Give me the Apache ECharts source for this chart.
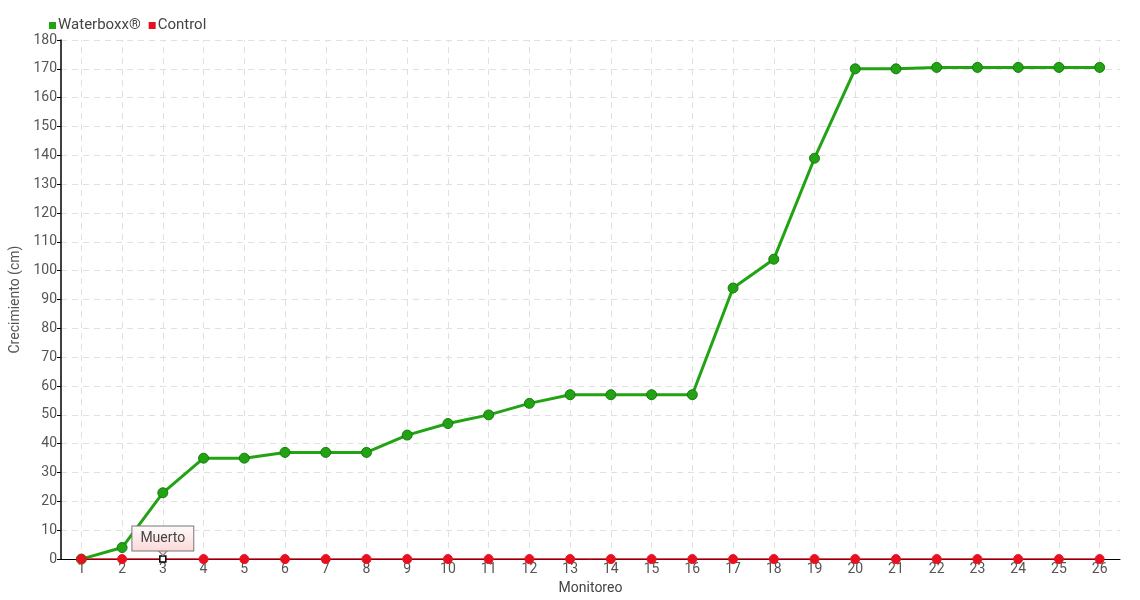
<!DOCTYPE html>
<html><head><meta charset="utf-8">
<script src="https://cdn.jsdelivr.net/npm/echarts@6/dist/echarts.min.js"></script>
<style>html,body{margin:0;padding:0;background:#fff}#c{width:1140px;height:600px}</style>
</head><body><div id="c"></div>
<script>
const categories = ['1','2','3','4','5','6','7','8','9','10','11','12','13','14','15','16','17','18','19','20','21','22','23','24','25','26'];
const waterboxx = [0,4,23,35,35,37,37,37,43,47,50,54,57,57,57,57,94,104,139,170,170,170.5,170.5,170.5,170.5,170.5];
const control = [0,0,0,0,0,0,0,0,0,0,0,0,0,0,0,0,0,0,0,0,0,0,0,0,0,0];
const deadIndex = 2;
const deadLabel = 'Muerto';
const yTicks = {min:0, max:180, interval:10};

const font = "'Roboto','DejaVu Sans',sans-serif";
const chart = echarts.init(document.getElementById('c'), null, {renderer:'canvas'});
const controlData = control.map((v,i)=> i===deadIndex ? {
  value:v, symbol:'rect', symbolSize:6,
  itemStyle:{color:'#fff', borderColor:'#000', borderWidth:1.5}
} : v);
chart.setOption({
  animation:false,
  legend:{left:44, top:13, itemWidth:7, itemHeight:7, itemGap:8,
    itemStyle:{borderWidth:0},
    textStyle:{fontFamily:font, fontSize:15, color:'#444', padding:[0,0,0,-3]},
    icon:'rect', data:['Waterboxx®','Control']},
  grid:{left:61, right:20, top:40, bottom:40},
  xAxis:{type:'category', data:categories, boundaryGap:true,
    name:'Monitoreo', nameLocation:'middle', nameGap:14,
    nameTextStyle:{fontFamily:font, fontSize:14, color:'#444'},
    axisLine:{lineStyle:{color:'#000', width:1}},
    axisTick:{show:false},
    axisLabel:{fontFamily:font, fontSize:14, color:'#555', margin:3},
    splitLine:{show:false}},
  yAxis:{type:'value', min:yTicks.min, max:yTicks.max, interval:yTicks.interval,
    name:'Crecimiento (cm)', nameLocation:'middle', nameGap:28,
    nameTextStyle:{fontFamily:font, fontSize:14, color:'#555'},
    axisLine:{show:true, lineStyle:{color:'#000', width:1.5}},
    axisTick:{show:true, length:4, lineStyle:{color:'#000'}},
    axisLabel:{fontFamily:font, fontSize:14, color:'#555', margin:4},
    splitLine:{show:true, lineStyle:{color:'#e0e0e0', type:[6,5]}}},
  series:[
    {name:'grid', type:'line', data:[], z:1, silent:true,
      markLine:{silent:true, z:1, symbol:'none', label:{show:false}, animation:false,
        lineStyle:{color:'#e0e0e0', type:[6,5], width:1},
        data:categories.map(c=>({xAxis:c}))}
    },
    {name:'Waterboxx®', type:'line', data:waterboxx, z:3,
      color:'#1ea010',
      lineStyle:{color:'#22a313', width:3},
      symbol:'circle', symbolSize:10,
      itemStyle:{color:'#22a313', borderColor:'#197a0e', borderWidth:1}
    },
    {name:'Control', type:'line', data:controlData, z:4,
      color:'#e8101e',
      lineStyle:{color:'#e00a1a', width:1.5},
      symbol:'circle', symbolSize:9,
      itemStyle:{color:'#e8101e', borderColor:'#e8101e'},
      markPoint:{silent:true, z:6,
        data:[
          {coord:[categories[deadIndex], control[deadIndex]], symbol:'rect', symbolSize:1,
            itemStyle:{color:'transparent'},
            label:{show:true, position:'top', distance:8, formatter:deadLabel,
              fontFamily:font, fontSize:14, color:'#444',
              backgroundColor:{type:'linear',x:0,y:0,x2:0,y2:1,colorStops:[{offset:0,color:'#fffafa'},{offset:1,color:'#fcd8d8'}]},
              borderColor:'#777', borderWidth:1, padding:[5,8,5,8]}},
          {coord:[categories[deadIndex], control[deadIndex]], symbol:'triangle', symbolSize:[9,5], symbolRotate:180, symbolOffset:[0,-6],
            itemStyle:{color:'#fcdcdc', borderColor:'#777', borderWidth:1}, label:{show:false}}
        ]}
    }
  ]
});
</script></body></html>
